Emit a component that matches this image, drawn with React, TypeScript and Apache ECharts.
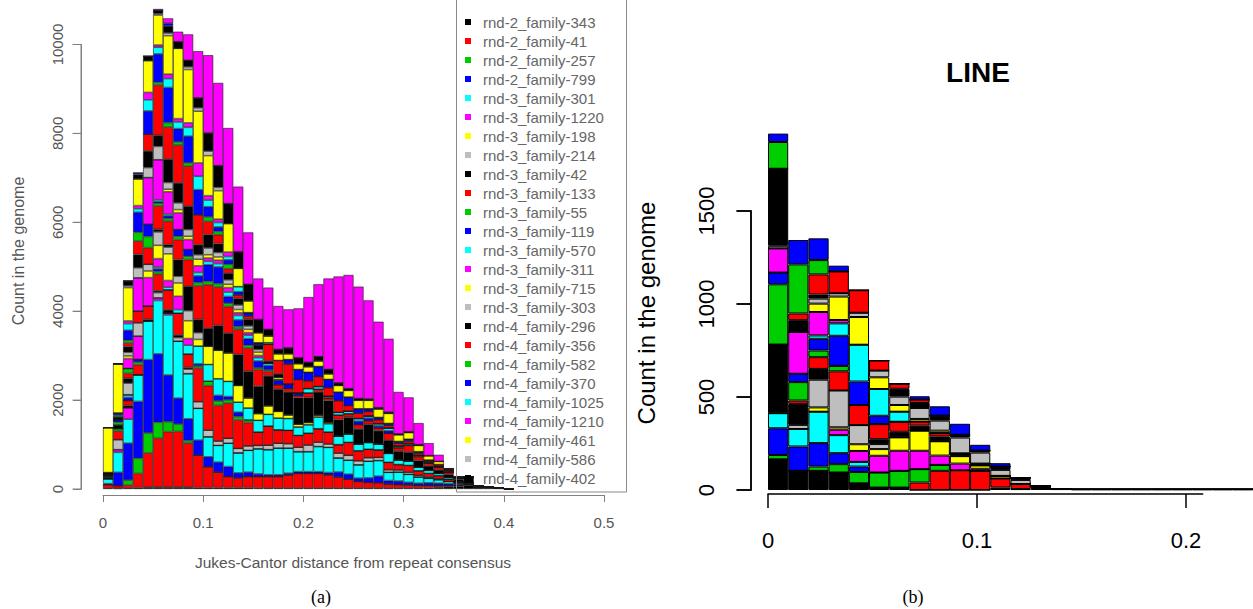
import React, { useEffect, useRef } from 'react';
import * as echarts from 'echarts';

// R default palette(): black, red, green3, blue, cyan, magenta, yellow, gray
const PALETTE = ['#000000', '#ff0000', '#00cd00', '#0000ff', '#00ffff', '#ff00ff', '#ffff00', '#bebebe'];

// ---------- Panel (a): bins of 0.01 from 0 to 0.50 ----------
const LEFT_BIN_COUNT = 50;
const LEFT_Y_TICKS = [0, 2000, 4000, 6000, 8000, 10000];
const LEFT_NAMES = [
  'rnd-2_family-343', 'rnd-2_family-41', 'rnd-2_family-257', 'rnd-2_family-799',
  'rnd-3_family-301', 'rnd-3_family-1220', 'rnd-3_family-198', 'rnd-3_family-214',
  'rnd-3_family-42', 'rnd-3_family-133', 'rnd-3_family-55', 'rnd-3_family-119',
  'rnd-3_family-570', 'rnd-3_family-311', 'rnd-3_family-715', 'rnd-3_family-303',
  'rnd-4_family-296', 'rnd-4_family-356', 'rnd-4_family-582', 'rnd-4_family-370',
  'rnd-4_family-1025', 'rnd-4_family-1210', 'rnd-4_family-461', 'rnd-4_family-586',
  'rnd-4_family-402',
];

// stacked layers, bottom to top (index = position in the stack, colour cycles through PALETTE)
const L00 = [20, 15, 20, 30, 40, 40, 40, 40, 40, 30, 30, 30, 30, 30, 30, 20, 20, 20, 20, 20, 20, 20, 20, 20, 20, 20, 20, 20, 20, 20, 20, 20, 30, 40, 50, 60, 80, 50, 40, 20, 10];
const L01 = [80, 60, 70, 320, 770, 1100, 1250, 1255, 990, 730, 470, 350, 250, 220, 250, 260, 260, 260, 295, 330, 330, 330, 300, 250, 200, 150, 130, 120, 90, 80, 70, 60, 50, 40, 30, 20, 20];
const L02 = [0, 0, 110, 340, 450, 360, 225, 165, 60];
const L03 = [20, 300, 830, 1280, 1650, 1540, 1050, 585, 490, 340, 225, 225, 225, 113, 100, 60, 40, 40, 40, 40, 40, 40, 50, 113, 113, 75, 100, 150, 80, 80, 60, 50, 60, 50, 40, 30];
const L04 = [110, 450, 540, 600, 865, 1200, 1350, 1280, 1015, 715, 450, 375, 525, 450, 490, 565, 565, 600, 565, 450, 450, 565, 565, 315, 315, 300, 375, 350, 185, 200, 180, 140, 100, 80, 50, 30, 18];
const L05 = [0, 60, 260, 0, 0, 60, 40];
const L06 = [0];
const L07 = [0, 225, 0, 0, 0, 117, 0, 80, 100, 150, 150, 100, 110, 100, 100, 75, 100, 110, 100, 100, 150, 100, 80, 110, 110, 90, 80, 70, 60, 50, 50, 40, 30, 20];
const L08 = [40, 0, 50, 0, 40, 40, 75, 60, 40];
const L09 = [0, 190, 110, 225, 300, 375, 450, 490, 300, 750, 1000, 800, 790, 640, 525, 300, 430, 300, 300, 265, 265, 300, 265, 190, 290, 225, 190, 170, 165, 120, 150, 100, 80, 70, 50, 20, 10];
const L10 = [30, 60, 0, 60, 0, 60, 0, 0, 0, 50, 100, 100, 75, 75, 50];
const L11 = [0, 0, 70, 60, 0, 60, 0, 0, 0, 50, 0, 125, 75, 100, 12];
const L12 = [0, 0, 60, 0, 0, 40, 60, 80, 200, 400, 375, 375, 340, 225, 265, 265, 265, 265, 265, 190, 190, 265, 190, 190, 190, 150, 150, 130, 200, 100, 100, 80, 70, 50, 40];
const L13 = [0, 0, 0, 525, 640, 190, 150, 300, 150];
const L14 = [0, 0, 0, 0, 150, 300, 600, 300, 400, 150, 410, 640, 640, 375, 225, 150, 190, 150, 80, 60, 50, 40, 30];
const L15 = [0, 0, 260, 300, 150, 300, 150, 150, 225, 150];
const L16 = [40, 80, 110, 0, 0, 60, 60, 375, 551, 300, 410, 560, 445, 700, 600, 619, 675, 500, 520, 600, 565, 525, 490, 375, 375, 340, 410, 300, 300, 200, 200, 150, 100, 80, 70, 60, 150, 20];
const L17 = [0, 0, 110, 260, 375, 525, 525, 450, 600, 754, 975, 865, 600, 565, 525, 375, 100, 100, 76, 48, 100, 60, 60, 100, 80, 100, 80, 60, 150, 80, 150, 90, 60, 60, 60, 30];
const L18 = [0, 60, 110, 0, 250, 60, 60, 75, 75, 75, 75, 75, 75, 60, 60, 40, 35];
const L19 = [0, 60, 0, 0, 275, 40, 60, 150, 150, 150, 375, 375, 150, 150, 150, 150, 100, 100, 100, 60, 0, 0, 0, 0, 0, 75, 60, 50, 60];
const L20 = [0, 0, 0, 0, 0, 40, 40, 0, 0, 75, 75, 75, 100, 100, 75, 75, 50, 16, 0, 0, 100, 60, 40, 60, 60, 60, 50, 50, 65, 40, 40, 30, 30, 20];
const L21 = [0, 0, 225, 750, 1050, 900, 500, 375, 225, 150, 75, 75, 100, 60, 60, 50];
const L22 = [0, 0, 60, 0, 0, 0, 60, 75, 75, 150, 75, 75, 75, 75, 75, 75, 0, 50];
const L23 = [0, 0, 80, 225, 225, 300, 150, 150, 150, 100, 150, 100, 100, 100, 75, 60];
const L24 = [30, 60, 130, 300, 375, 250, 525, 450, 525, 225, 300, 200, 150, 150, 150, 100, 50, 80];
const L25 = [0, 0, 80, 300, 375, 1130, 722, 847, 900, 675, 300, 200, 100, 75, 75, 0, 375, 300, 450, 300, 175, 225, 190, 265, 125, 120, 100, 90, 60, 60, 60, 50, 40, 40, 40, 15];
const L26 = [0, 40, 60, 200, 0, 60, 100, 75, 75, 0, 100, 75, 100];
const L27 = [0, 50, 225, 450, 525, 640, 790, 300, 600, 565, 229, 100, 100, 75, 75, 50, 0, 0, 100, 225, 190, 225, 185, 190, 190, 100, 60, 50, 40, 40, 40, 30];
const L28 = [0, 0, 150, 80, 250, 150, 200, 150, 200, 300, 150, 100, 75, 114, 0, 0, 35];
const L29 = [0, 0, 60, 70, 166, 50, 100, 75, 100, 300, 100, 75, 100];
const L30 = [1010, 1105, 750, 600, 715, 675, 865, 1580, 1200, 1165, 900, 640, 640, 410, 265, 225, 150, 150, 130, 130, 125, 125, 125, 150, 150, 190, 190, 190, 225, 150, 150, 140, 100, 70, 20];
const L31 = [0, 0, 40, 0, 0, 30, 60, 0, 60, 75, 100, 75];
const L32 = [0, 0, 110, 100, 100, 75, 160, 150, 150, 225, 410, 490, 450, 375, 375, 300, 150, 100, 135, 135, 100, 100, 100, 60, 40, 40, 30, 30, 30, 20, 20, 20];
const L35 = [0, 0, 0, 35, 0, 0, 60];
const L37 = [0, 0, 0, 0, 0, 30, 110, 225, 580, 1050, 1750, 1860, 1700, 1465, 1165, 920, 940, 975, 865, 1110, 1468, 1625, 2044, 2391, 2557, 2518, 2219, 1933, 1649, 943, 771, 483, 282, 150, 20];

const LEFT_LAYERS: [number, number[]][] = [
  [0, L00], [1, L01], [2, L02], [3, L03], [4, L04], [5, L05], [6, L06], [7, L07],
  [8, L08], [9, L09], [10, L10], [11, L11], [12, L12], [13, L13], [14, L14], [15, L15],
  [16, L16], [17, L17], [18, L18], [19, L19], [20, L20], [21, L21], [22, L22], [23, L23],
  [24, L24], [25, L25], [26, L26], [27, L27], [28, L28], [29, L29], [30, L30], [31, L31],
  [32, L32], [35, L35], [37, L37],
];

// ---------- Panel (b): LINE, bins of 0.01 ----------
const RIGHT_BIN_COUNT = 24;
const RIGHT_X_TICKS = [0, 0.1, 0.2];
const RIGHT_Y_TICKS = [0, 500, 1000, 1500];
const R00 = [165, 103, 103, 94, 36, 13, 13, 0, 0, 0, 0, 13, 5, 22, 5, 3, 3, 3, 3, 3, 3, 3, 3, 3];
const R01 = [0, 0, 0, 0, 0, 0, 0, 40, 103, 106, 103, 49, 27];
const R02 = [23, 0, 23, 45, 61, 81, 90, 72, 32];
const R03 = [144, 131, 126, 59, 29];
const R04 = [81, 94, 169, 97, 25];
const R05 = [0, 0, 0, 29, 59, 90, 108, 99, 50, 36, 11];
const R06 = [9, 0, 23, 13, 36, 36, 72, 108, 77, 40, 18, 14];
const R07 = [0, 22, 149, 198, 103, 27];
const R08 = [360, 113, 58, 0, 0, 26, 30, 27, 26, 15, 10];
const R09 = [0, 18, 63, 103, 108, 81, 54, 22, 18];
const R10 = [324, 99, 36, 29];
const R11 = [63, 45, 63, 162, 126, 45];
const R12 = [0, 0, 18, 67, 198, 144, 54];
const R13 = [130, 225, 126, 18];
const R14 = [0, 0, 45, 126, 149, 63, 36, 14, 13];
const R15 = [14, 0, 27, 18, 23, 36, 45, 59, 54, 85, 59, 32, 22];
const R16 = [414, 63, 22, 0, 0, 0, 42, 27, 27, 15, 11, 18, 13];
const R17 = [0, 36, 108, 117, 121, 54, 27, 18];
const R18 = [144, 264, 77];
const R19 = [45, 131, 117, 31, 0, 0, 0, 18, 50, 59, 31, 18];
const RIGHT_LAYERS = [R00, R01, R02, R03, R04, R05, R06, R07, R08, R09, R10, R11, R12, R13, R14, R15, R16, R17, R18, R19];

const pad = (a: number[], n: number) => a.concat(new Array(Math.max(0, n - a.length)).fill(0));

const SANS = 'Liberation Sans, Arial, Helvetica, sans-serif';
const SERIF = 'Liberation Serif, DejaVu Serif, serif';
const GRAY_TEXT = '#555555';
const GRAY_LINE = '#808080';

// layout of the vertical axes
const LEFT_AXIS = { x: 81, top: 44.5, height: 444.5, tick: 8 };
const RIGHT_AXIS = { x: 751, top: 211, height: 279, tick: 14 };

export default function App() {
  const ref = useRef<HTMLDivElement>(null);

  useEffect(() => {
    if (!ref.current) return;
    const chart = echarts.init(ref.current, undefined, { renderer: 'svg' });

    const leftCats = Array.from({ length: LEFT_BIN_COUNT }, (_, i) => (i / 100).toFixed(2));
    const rightCats = Array.from({ length: RIGHT_BIN_COUNT }, (_, i) => (i / 100).toFixed(2));
    const leftLen = L00.length;
    const leftMax = LEFT_Y_TICKS[LEFT_Y_TICKS.length - 1];
    const rightMax = RIGHT_Y_TICKS[RIGHT_Y_TICKS.length - 1];

    const leftSeries = LEFT_LAYERS.map(([idx, data]) => ({
      type: 'bar',
      name: idx < LEFT_NAMES.length ? LEFT_NAMES[idx] : 'layer-' + idx,
      xAxisIndex: 0,
      yAxisIndex: 0,
      stack: 'a',
      barCategoryGap: '0%',
      data: pad(data, leftLen),
      itemStyle: { color: PALETTE[idx % 8], borderColor: '#1a1a1a', borderWidth: 0.6 },
      emphasis: { disabled: true },
      silent: true,
    }));

    const rightSeries = RIGHT_LAYERS.map((data, idx) => ({
      type: 'bar',
      name: 'LINE-' + idx,
      xAxisIndex: 2,
      yAxisIndex: 2,
      stack: 'b',
      barCategoryGap: '0%',
      data: pad(data, RIGHT_BIN_COUNT),
      itemStyle: { color: PALETTE[idx % 8], borderColor: '#000', borderWidth: 1 },
      emphasis: { disabled: true },
      silent: true,
    }));

    // axis line + tick marks of a vertical axis, drawn as a line series in a grid that spans the tick length
    const axisSeries = (name: string, axisIdx: number, ticks: number[], max: number, color: string, width: number) => {
      const pts: any[] = [[1, 0], [1, max]];
      ticks.forEach((t) => { pts.push(null, [0, t], [1, t]); });
      return {
        type: 'line', name, xAxisIndex: axisIdx, yAxisIndex: axisIdx,
        data: pts, showSymbol: false, symbol: 'none', connectNulls: false, clip: false,
        lineStyle: { color, width, cap: 'square' }, silent: true, z: 20, animation: false,
      };
    };
    const hidden = (gridIndex: number, max: number) => ({ gridIndex, type: 'value', min: 0, max, show: false });

    const option: any = {
      animation: false,
      backgroundColor: '#ffffff',
      grid: [
        { left: 103, top: 0, width: 501, height: 489 },                                                    // 0 left bars
        { left: 103, top: LEFT_AXIS.top, width: 501, height: LEFT_AXIS.height },                           // 1 left axes
        { left: 768, top: 118, width: 501.6, height: 372 },                                                // 2 right bars
        { left: 768, top: RIGHT_AXIS.top, width: 434.7, height: RIGHT_AXIS.height },                       // 3 right axes
        { left: LEFT_AXIS.x - LEFT_AXIS.tick, top: LEFT_AXIS.top, width: LEFT_AXIS.tick, height: LEFT_AXIS.height },      // 4 left axis line
        { left: RIGHT_AXIS.x - RIGHT_AXIS.tick, top: RIGHT_AXIS.top, width: RIGHT_AXIS.tick, height: RIGHT_AXIS.height }, // 5 right axis line
      ],
      xAxis: [
        { gridIndex: 0, type: 'category', data: leftCats, show: false },
        {
          gridIndex: 1, type: 'value', min: 0, max: 0.5, interval: 0.1, offset: 6,
          axisLine: { show: true, onZero: false, lineStyle: { color: GRAY_LINE, width: 1 } },
          axisTick: { show: true, length: 7, lineStyle: { color: GRAY_LINE } },
          axisLabel: { color: GRAY_TEXT, fontSize: 15, fontFamily: SANS, margin: 20 },
          splitLine: { show: false },
        },
        { gridIndex: 2, type: 'category', data: rightCats, show: false },
        {
          gridIndex: 3, type: 'value', min: 0, max: 0.208, offset: 4,
          axisLine: { show: true, onZero: false, lineStyle: { color: '#000', width: 1.5 } },
          axisTick: { show: true, length: 14, customValues: RIGHT_X_TICKS, lineStyle: { color: '#000', width: 1.5 } },
          axisLabel: { color: '#000', fontSize: 22, fontFamily: SANS, margin: 35, customValues: RIGHT_X_TICKS },
          splitLine: { show: false },
        },
        hidden(4, 1),
        hidden(5, 1),
      ],
      yAxis: [
        { gridIndex: 0, type: 'value', min: 0, max: 11000, show: false },
        {
          gridIndex: 1, type: 'value', min: 0, max: leftMax, interval: 2000, offset: 103 - LEFT_AXIS.x,
          axisLine: { show: true, onZero: false, lineStyle: { color: GRAY_LINE, width: 1 } },
          axisTick: { show: true, length: 8, lineStyle: { color: GRAY_LINE } },
          axisLabel: { color: GRAY_TEXT, fontSize: 15, fontFamily: SANS, rotate: 90, margin: 16, formatter: (v: number) => String(v) },
          splitLine: { show: false },
        },
        { gridIndex: 2, type: 'value', min: 0, max: 2000, show: false },
        {
          gridIndex: 3, type: 'value', min: 0, max: rightMax, interval: 500, offset: 768 - RIGHT_AXIS.x,
          axisLine: { show: true, onZero: false, lineStyle: { color: '#000', width: 1.5 } },
          axisTick: { show: true, length: 14, lineStyle: { color: '#000', width: 1.5 } },
          axisLabel: { color: '#000', fontSize: 22, fontFamily: SANS, rotate: 90, margin: 34, formatter: (v: number) => String(v) },
          splitLine: { show: false },
        },
        hidden(4, leftMax),
        hidden(5, rightMax),
      ],
      legend: {
        data: LEFT_NAMES,
        orient: 'vertical',
        left: 465,
        top: 12.5,
        padding: 0,
        itemWidth: 6,
        itemHeight: 6,
        itemGap: 0,
        icon: 'rect',
        selectedMode: false,
        itemStyle: { borderWidth: 0 },
        textStyle: { color: '#666666', fontSize: 15, fontFamily: SANS, lineHeight: 19, padding: [0, 0, 0, 7] },
      },
      graphic: [
        {
          type: 'rect', silent: true, z: 10,
          shape: { x: 456.5, y: -5, width: 170, height: 497 },
          style: { fill: 'none', stroke: '#8a8a8a', lineWidth: 1 },
        },
        {
          type: 'text', x: 18, y: 251, rotation: Math.PI / 2, silent: true,
          style: { text: 'Count in the genome', fill: GRAY_TEXT, fontSize: 16, fontFamily: SANS, textAlign: 'center', textVerticalAlign: 'middle', verticalAlign: 'middle' },
        },
        {
          type: 'text', x: 353, y: 562, silent: true,
          style: { text: 'Jukes-Cantor distance from repeat consensus', fill: GRAY_TEXT, fontSize: 15.5, fontFamily: SANS, textAlign: 'center', textVerticalAlign: 'middle', verticalAlign: 'middle' },
        },
        {
          type: 'text', x: 646, y: 313, rotation: Math.PI / 2, silent: true,
          style: { text: 'Count in the genome', fill: '#000', fontSize: 24, fontFamily: SANS, textAlign: 'center', textVerticalAlign: 'middle', verticalAlign: 'middle' },
        },
        {
          type: 'text', x: 978, y: 72, silent: true,
          style: { text: 'LINE', fill: '#000', fontSize: 28, fontWeight: 'bold', fontFamily: SANS, textAlign: 'center', textVerticalAlign: 'middle', verticalAlign: 'middle' },
        },
        {
          type: 'text', x: 321, y: 597, silent: true,
          style: { text: '(a)', fill: '#000', fontSize: 18, fontFamily: SERIF, textAlign: 'center', textVerticalAlign: 'middle', verticalAlign: 'middle' },
        },
        {
          type: 'text', x: 913, y: 597, silent: true,
          style: { text: '(b)', fill: '#000', fontSize: 18, fontFamily: SERIF, textAlign: 'center', textVerticalAlign: 'middle', verticalAlign: 'middle' },
        },
      ],
      series: [
        ...leftSeries,
        ...rightSeries,
        axisSeries('left-axis', 4, LEFT_Y_TICKS, leftMax, GRAY_LINE, 1),
        axisSeries('right-axis', 5, RIGHT_Y_TICKS, rightMax, '#000', 1.5),
      ],
    };

    chart.setOption(option);
    return () => chart.dispose();
  }, []);

  return (
    <div
      ref={ref}
      style={{ position: 'absolute', left: 0, top: 0, width: 1253, height: 609, background: '#fff' }}
    />
  );
}
